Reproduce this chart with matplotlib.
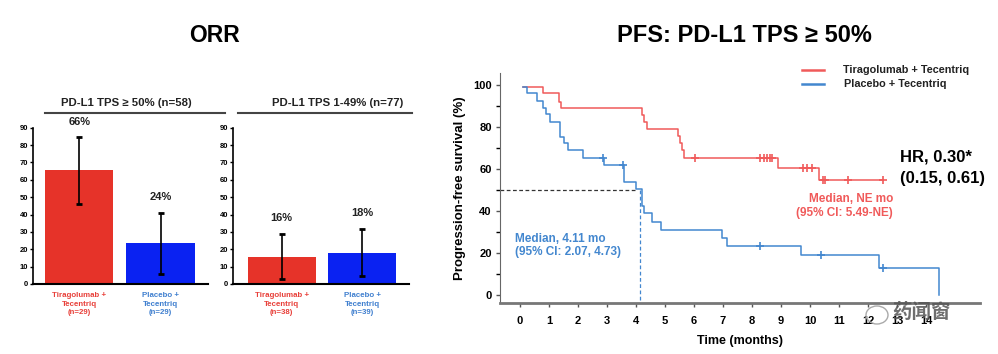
import numpy as np
import matplotlib
matplotlib.use('Agg')
import matplotlib.pyplot as plt

plt.rcParams['font.family'] = ['Liberation Sans', 'DejaVu Sans']
plt.rcParams['font.weight'] = 'bold'

W, H = 998, 354

# ORR bar data
arms_hi = ['Tiragolumab +\nTecentriq\n(n=29)', 'Placebo +\nTecentriq\n(n=29)']
orr_hi = [65.5, 23.5]
ci_hi_low = [46, 6]
ci_hi_up = [84.4, 41]
lab_hi = ['66%', '24%']
lab_hi_y = [93, 50]

arms_lo = ['Tiragolumab +\nTecentriq\n(n=38)', 'Placebo +\nTecentriq\n(n=39)']
orr_lo = [15.5, 17.8]
ci_lo_low = [2.9, 4.8]
ci_lo_up = [28.8, 31.9]
lab_lo = ['16%', '18%']
lab_lo_y = [38, 41]

# PFS Kaplan-Meier data
tira_t = [0.1, 0.8, 1.35, 1.4, 4.2, 4.27, 4.38, 5.45, 5.52, 5.6, 5.65, 8.9, 10.3, 12.5]
tira_s = [99, 96, 92, 89, 85.7, 82.5, 79, 75.7, 72.5, 69, 65.4, 60.5, 54.8, 54.8]
tira_cens_t = [6.05, 8.28, 8.4, 8.5, 8.62, 8.7, 9.75, 9.9, 10.07, 10.45, 10.5, 11.3, 12.5]
tira_cens_s = [65.4, 65.4, 65.4, 65.4, 65.4, 65.4, 60.5, 60.5, 60.5, 54.8, 54.8, 54.8, 54.8]

plac_t = [0.1, 0.25, 0.57, 0.8, 0.9, 1.03, 1.38, 1.52, 1.67, 2.18, 2.9, 3.6, 4.0, 4.2,
          4.28, 4.55, 4.85, 6.95, 7.12, 9.68, 12.38, 14.46]
plac_s = [99, 96, 92.4, 89.2, 86, 82.5, 75.4, 72.2, 69, 65.4, 61.7, 54, 50.6, 42.4,
          38.9, 34.9, 31, 27.3, 23.5, 19, 12.7, 0]
plac_cens_t = [2.87, 3.56, 8.28, 10.38, 12.5]
plac_cens_s = [65.4, 61.7, 23.5, 19, 12.7]

RED_BAR = '#e63329'
BLUE_BAR = '#0a22f2'
RED_TXT = '#e8403a'
BLUE_TXT = '#3f7fcf'
KM_RED = '#f05a5a'
KM_BLUE = '#4387cf'


def px_axes(fig, x0, y0, x1, y1):
    return fig.add_axes([x0 / W, 1 - y1 / H, (x1 - x0) / W, (y1 - y0) / H])


fig = plt.figure(figsize=(W / 100, H / 100), dpi=100)

fig.text(214 / W, 1 - 35 / H, 'ORR', ha='center', va='center', fontsize=16.5, fontweight='bold')
fig.text(744 / W, 1 - 35 / H, 'PFS: PD-L1 TPS \u2265 50%', ha='center', va='center',
         fontsize=17, fontweight='bold')


def bar_panel(ax, vals, lo, up, labels, lab_y, arms, xlim):
    x = np.arange(len(vals))
    ax.bar(x, vals, width=0.84, color=[RED_BAR, BLUE_BAR])
    err = [np.array(vals) - np.array(lo), np.array(up) - np.array(vals)]
    ax.errorbar(x, vals, yerr=err, fmt='none', ecolor='black', elinewidth=1.2,
                capsize=2, capthick=2)
    for xi, t, yy in zip(x, labels, lab_y):
        ax.text(xi, yy, t, ha='center', va='center', fontsize=8, fontweight='bold',
                color='#222222', clip_on=False)
    ax.set_xlim(*xlim)
    ax.set_ylim(0, 90)
    ax.set_yticks(np.arange(0, 91, 10))
    ax.tick_params(axis='y', labelsize=5.5, length=2.5, width=1, pad=1)
    ax.set_xticks(x)
    ax.set_xticklabels(arms, fontsize=5.7, fontweight='bold', linespacing=1.3)
    for tl, c in zip(ax.get_xticklabels(), [RED_TXT, BLUE_TXT]):
        tl.set_color(c)
    ax.tick_params(axis='x', length=0, pad=6)
    for s in ['top', 'right']:
        ax.spines[s].set_visible(False)
    ax.spines['left'].set_linewidth(1.2)
    ax.spines['bottom'].set_linewidth(1.5)


ax1 = px_axes(fig, 33, 127.7, 207.7, 284)
bar_panel(ax1, orr_hi, ci_hi_low, ci_hi_up, lab_hi, lab_hi_y, arms_hi, (-0.568, 1.58))
ax2 = px_axes(fig, 233.3, 127.7, 409, 284)
bar_panel(ax2, orr_lo, ci_lo_low, ci_lo_up, lab_lo, lab_lo_y, arms_lo, (-0.6, 1.58))

fig.text(126 / W, 1 - 103 / H, 'PD-L1 TPS \u2265 50% (n=58)', ha='center', va='center',
         fontsize=8.2, fontweight='bold', color='#222222')
fig.text(338 / W, 1 - 103 / H, 'PD-L1 TPS 1-49% (n=77)', ha='center', va='center',
         fontsize=8.2, fontweight='bold', color='#222222')
fig.add_artist(plt.Line2D([45 / W, 225 / W], [1 - 112.5 / H] * 2, color='#444444', lw=1.5))
fig.add_artist(plt.Line2D([238 / W, 412 / W], [1 - 113 / H] * 2, color='#444444', lw=1.5))

# KM panel
ax3 = px_axes(fig, 500, 73, 980, 303)
ax3.plot(tira_t, tira_s, drawstyle='steps-post', color=KM_RED, lw=1.1)
ax3.plot(plac_t, plac_s, drawstyle='steps-post', color=KM_BLUE, lw=1.1)
ax3.plot(tira_cens_t, tira_cens_s, '+', color=KM_RED, ms=6, mew=1.2)
ax3.plot(plac_cens_t, plac_cens_s, '+', color=KM_BLUE, ms=6, mew=1.2)
ax3.plot([-0.69, 4.0], [50, 50], ls=(0, (3, 2)), color='#333333', lw=0.9)
ax3.plot([4.15, 4.15], [50, -3.8], ls=(0, (3, 2)), color=KM_BLUE, lw=0.9)
ax3.set_xlim(-0.69, 15.86)
ax3.set_ylim(-3.8, 105.7)
ax3.set_xticks(np.arange(0, 15))
ax3.set_yticks(np.arange(0, 101, 20))
ax3.set_yticks(np.arange(10, 100, 20), minor=True)
ax3.tick_params(axis='both', labelsize=8, color='#555555')
ax3.tick_params(axis='x', length=3, width=1, pad=6)
ax3.tick_params(axis='y', which='major', length=3, width=1, pad=3)
ax3.tick_params(axis='y', which='minor', length=3, width=1)
for s in ['top', 'right']:
    ax3.spines[s].set_visible(False)
ax3.spines['left'].set_color('#666666')
ax3.spines['bottom'].set_color('#777777')
ax3.spines['bottom'].set_linewidth(2)
ax3.set_ylabel('Progression-free survival (%)', fontsize=9.5, fontweight='bold', labelpad=5)
ax3.set_xlabel('Time (months)', fontsize=9, fontweight='bold', labelpad=7)

ax3.text(-0.17, 26.7, 'Median, 4.11 mo', color=KM_BLUE, fontsize=8.5, fontweight='bold', va='center')
ax3.text(-0.17, 20.3, '(95% CI: 2.07, 4.73)', color=KM_BLUE, fontsize=8.5, fontweight='bold', va='center')
ax3.text(12.86, 45.7, 'Median, NE mo', color=KM_RED, fontsize=8.5, fontweight='bold', va='center', ha='right')
ax3.text(12.86, 39, '(95% CI: 5.49-NE)', color=KM_RED, fontsize=8.5, fontweight='bold', va='center', ha='right')
ax3.text(13.1, 65.7, 'HR, 0.30*', color='black', fontsize=12, fontweight='bold', va='center',
         clip_on=False)
ax3.text(13.1, 55.7, '(0.15, 0.61)', color='black', fontsize=12, fontweight='bold', va='center',
         clip_on=False)

# legend drawn by hand to match placement
fig.add_artist(plt.Line2D([802 / W, 824 / W], [1 - 70 / H] * 2, color=KM_RED, lw=1.8))
fig.add_artist(plt.Line2D([802 / W, 824 / W], [1 - 84 / H] * 2, color=KM_BLUE, lw=1.8))
fig.text(843 / W, 1 - 70 / H, 'Tiragolumab + Tecentriq', fontsize=7.8, fontweight='bold',
         va='center', color='#222222')
fig.text(844 / W, 1 - 84 / H, 'Placebo + Tecentriq', fontsize=7.8, fontweight='bold',
         va='center', color='#222222')

# watermark
fig.add_artist(matplotlib.patches.Ellipse((877 / W, 1 - 315 / H), 22 / W, 18 / H,
                                          fill=False, ec='#aaaaaa', lw=1))
fig.text(892 / W, 1 - 312 / H, '药闻窗', fontsize=14, color='#555555', va='center',
         family=['Noto Sans CJK SC', 'DejaVu Sans'], alpha=0.85)

fig.savefig('out.png', dpi=100)
